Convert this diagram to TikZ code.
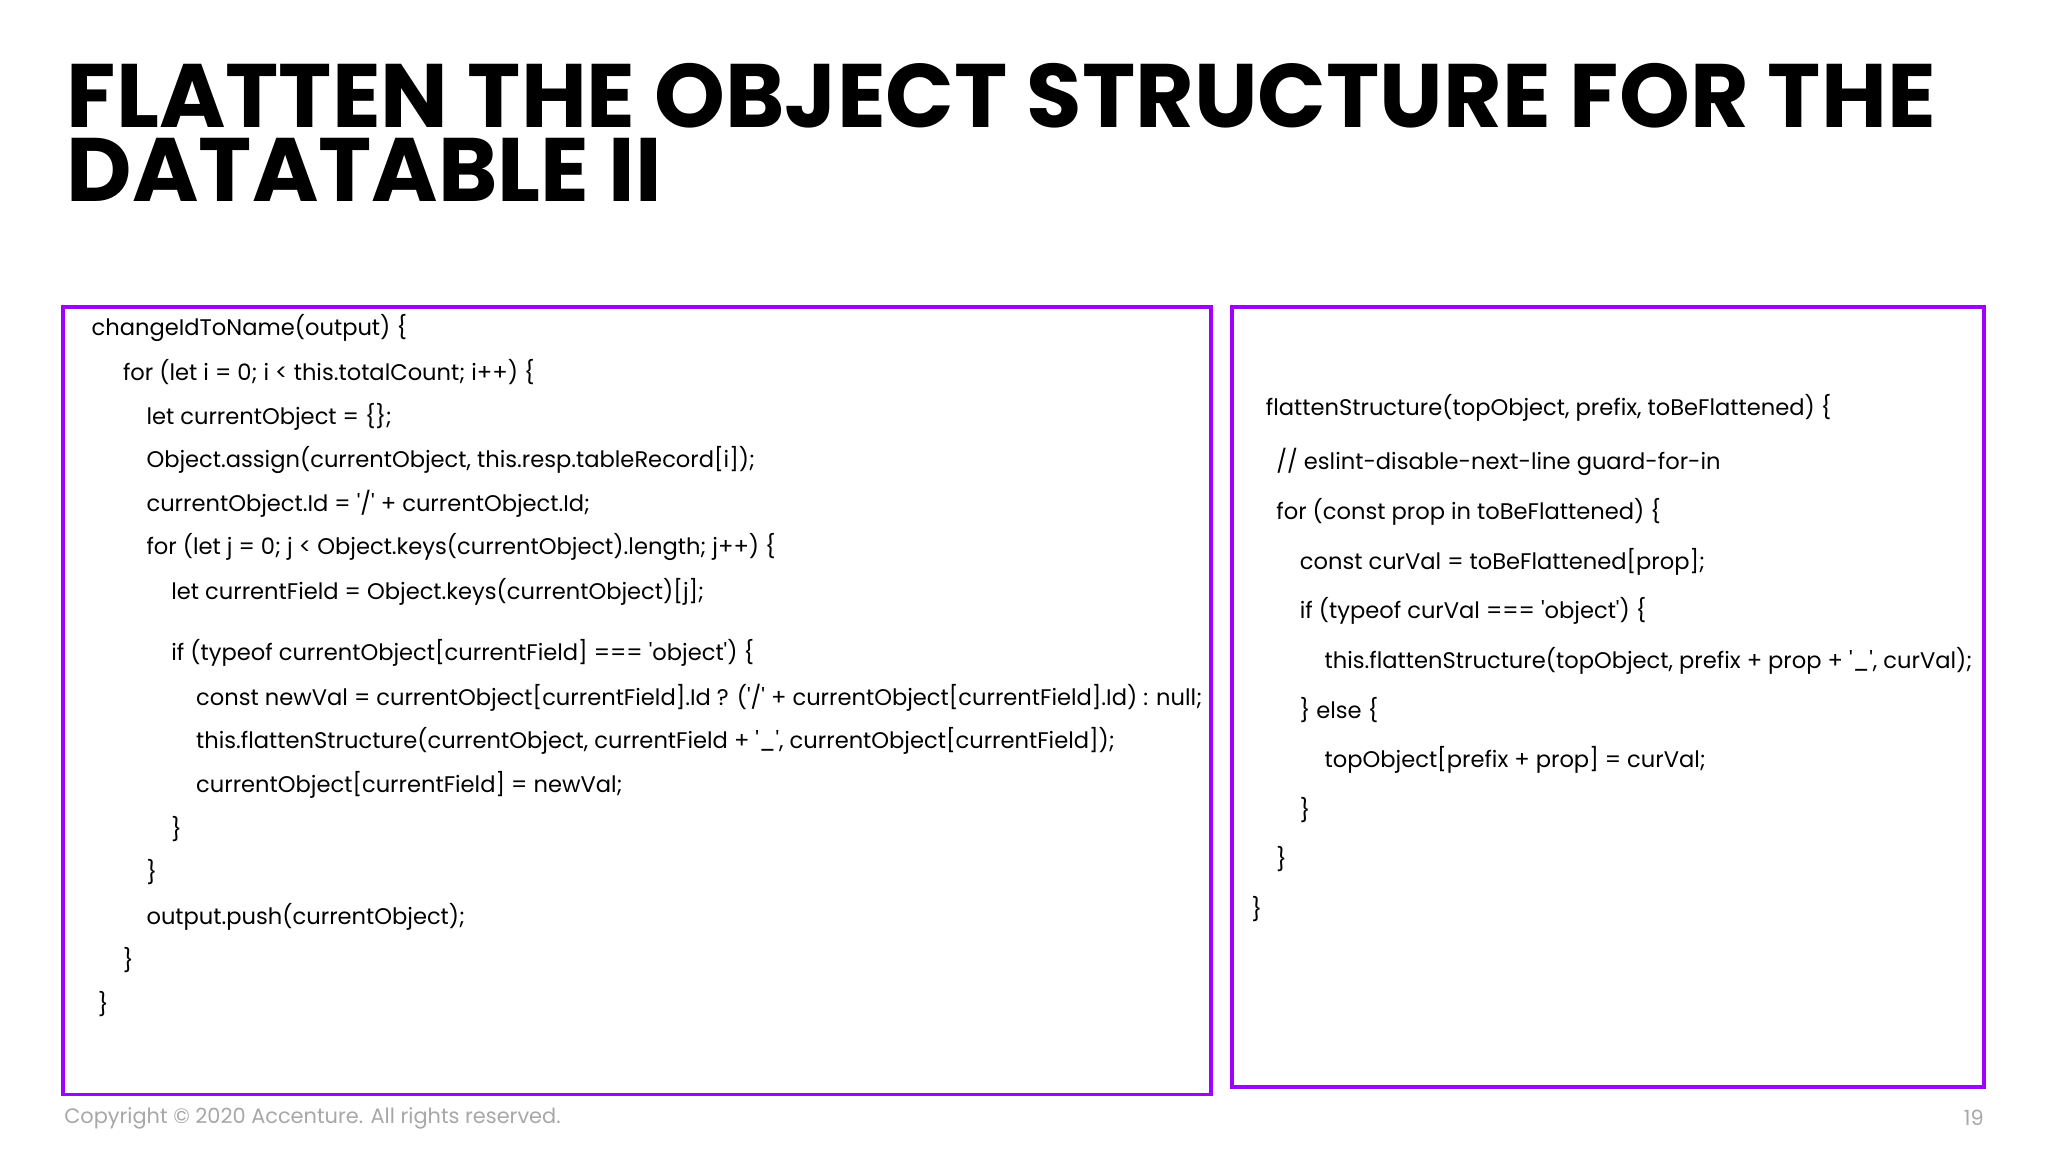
\documentclass[tikz,border=0pt]{standalone}
\usepackage{fontspec}
\newfontfamily\codefont{Poppins}
\newfontfamily\titlefont{Poppins}
\definecolor{acpurple}{HTML}{A100FF}
\definecolor{footgray}{HTML}{A8A8A8}
\begin{document}
\begin{tikzpicture}[x=1pt,y=-1pt,
  code/.style={anchor=west,inner sep=0pt,font=\codefont\fontsize{17.3}{20}\selectfont},
  titl/.style={anchor=north west,inner sep=0pt,align=left,font=\titlefont\bfseries\fontsize{69}{55}\selectfont},
  foot/.style={inner sep=0pt,text=footgray,font=\codefont\fontsize{16}{18}\selectfont},
  panel/.style={draw=acpurple,line width=3pt}]
\useasboundingbox[fill=white] (0,0) rectangle (1568,882);
\node[titl] (title) at (51,48) {FLATTEN THE OBJECT STRUCTURE FOR THE\\[2pt]DATATABLE II};
\draw[panel] (48,235) rectangle (927,838);
\draw[panel] (943,235) rectangle (1519,832);
\node[code] (l1) at (70,251) {changeIdToName(output) \{};
\node[code] (l2) at (94,285) {for (let i = 0; i < this.totalCount; i++) \{};
\node[code] (l3) at (112,319) {let currentObject = \{\};};
\node[code] (l4) at (112,352) {Object.assign(currentObject, this.resp.tableRecord[i]);};
\node[code] (l5) at (112,386) {currentObject.Id = '/' + currentObject.Id;};
\node[code] (l6) at (112,419) {for (let j = 0; j < Object.keys(currentObject).length; j++) \{};
\node[code] (l7) at (131,453) {let currentField = Object.keys(currentObject)[j];};
\node[code] (l8) at (131,500) {if (typeof currentObject[currentField] === 'object') \{};
\node[code] (l9) at (150,534) {const newVal = currentObject[currentField].Id ? ('/' + currentObject[currentField].Id) : null;};
\node[code] (l10) at (150,567) {this.flattenStructure(currentObject, currentField + '\_', currentObject[currentField]);};
\node[code] (l11) at (150,601) {currentObject[currentField] = newVal;};
\node[code] (l12) at (131,635) {\}};
\node[code] (l13) at (112,668) {\}};
\node[code] (l14) at (112,702) {output.push(currentObject);};
\node[code] (l15) at (94,735) {\}};
\node[code] (l16) at (75,769) {\}};
\node[code] (r1) at (969,312) {flattenStructure(topObject, prefix, toBeFlattened) \{};
\node[code] (r2) at (977,354) {// eslint-disable-next-line guard-for-in};
\node[code] (r3) at (977,392) {for (const prop in toBeFlattened) \{};
\node[code] (r4) at (995,430) {const curVal = toBeFlattened[prop];};
\node[code] (r5) at (995,468) {if (typeof curVal === 'object') \{};
\node[code] (r6) at (1014,506) {this.flattenStructure(topObject, prefix + prop + '\_', curVal);};
\node[code] (r7) at (995,544) {\} else \{};
\node[code] (r8) at (1014,582) {topObject[prefix + prop] = curVal;};
\node[code] (r9) at (995,620) {\}};
\node[code] (r10) at (977,658) {\}};
\node[code] (r11) at (958,696) {\}};
\node[foot,anchor=west] (copy) at (49,856) {Copyright © 2020 Accenture. All rights reserved.};
\node[foot,anchor=east] (pg) at (1519,856) {19};
\end{tikzpicture}
\end{document}
